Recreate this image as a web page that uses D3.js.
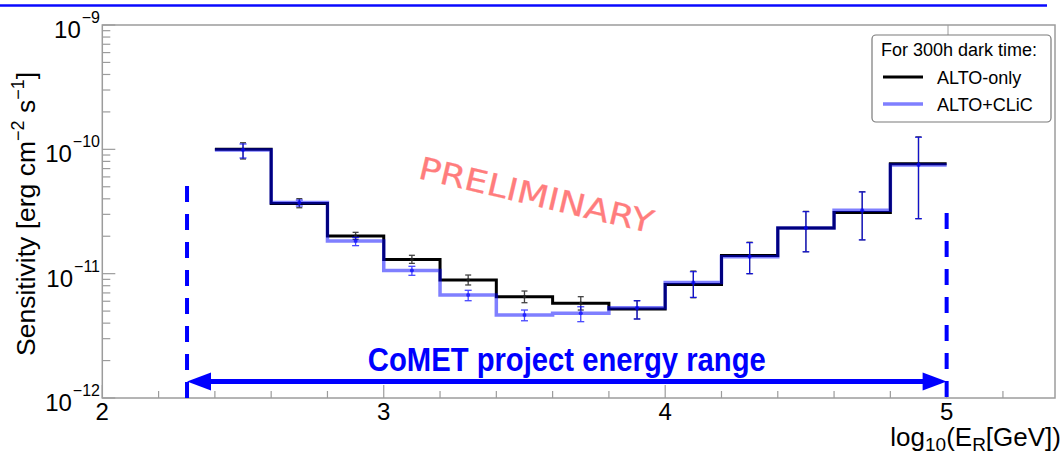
<!DOCTYPE html>
<html>
<head>
<meta charset="utf-8">
<script src="https://cdn.jsdelivr.net/npm/d3@7"></script>
<style>
  html, body { margin: 0; padding: 0; background: #fff; }
  svg { display: block; font-family: "Liberation Sans", Arial, Helvetica, sans-serif; }
</style>
</head>
<body>
<svg id="chart" width="1063" height="454"></svg>
<script>
// Bin edges in log10(E/GeV)
const binEdges = [2.4, 2.6, 2.8, 3.0, 3.2, 3.4, 3.6, 3.8, 4.0, 4.2, 4.4, 4.6, 4.8, 5.0];

// Sensitivity per bin [erg cm^-2 s^-1], 300 h dark time
const altoOnly   = [1.00e-10, 3.66e-11, 2.01e-11, 1.30e-11, 8.9e-12, 6.53e-12, 5.78e-12, 5.20e-12, 8.2e-12, 1.40e-11, 2.33e-11, 3.11e-11, 7.66e-11];
const altoOnlyLo = [8.36e-11, 3.39e-11, 1.89e-11, 1.21e-11, 8.11e-12, 5.84e-12, 5.10e-12, 4.32e-12, 6.4e-12, 1.0e-11, 1.5e-11, 1.87e-11, 2.77e-11];
const altoOnlyHi = [1.13e-10, 4.01e-11, 2.15e-11, 1.405e-11, 9.75e-12, 7.25e-12, 6.53e-12, 6.06e-12, 1.05e-11, 1.79e-11, 3.17e-11, 4.56e-11, 1.26e-10];

const altoClic   = [0.99e-10, 3.74e-11, 1.83e-11, 1.06e-11, 6.73e-12, 4.66e-12, 4.80e-12, 5.32e-12, 8.5e-12, 1.37e-11, 2.33e-11, 3.23e-11, 7.48e-11];
const altoClicLo = [8.52e-11, 3.50e-11, 1.68e-11, 9.70e-12, 6.06e-12, 4.18e-12, 4.11e-12, 4.32e-12, 6.45e-12, 1.0e-11, 1.50e-11, 1.87e-11, 2.77e-11];
const altoClicHi = [1.104e-10, 3.91e-11, 1.96e-11, 1.146e-11, 7.35e-12, 5.10e-12, 5.42e-12, 6.06e-12, 1.037e-11, 1.775e-11, 3.15e-11, 4.54e-11, 1.25e-10];

// Axis ticks
const xMajor = [2, 3, 4, 5];
const xMinor = [2.2, 2.4, 2.6, 2.8, 3.2, 3.4, 3.6, 3.8, 4.2, 4.4, 4.6, 4.8, 5.2];
const yDecades = [-12, -11, -10, -9];

// Project energy range: 200 GeV .. 100 TeV
const rangeLo = Math.log10(200);
const rangeHi = 5;
const rangeLoTop = 5.07e-11;
const rangeHiTop = 3.08e-11;
const arrowLevel = 1.36e-12;

const legendTitle = "For 300h dark time:";
const seriesNames = ["ALTO-only", "ALTO+CLiC"];

const svg = d3.select("#chart");
const padL = 102.3, padR = 1055, padT = 25, padB = 398;

const x = d3.scaleLinear().domain([2, 5.385]).range([padL, padR]);
const y = d3.scaleLog().domain([1e-12, 1e-9]).range([padB, padT]);

const frameColor = "#9c9c9c";
const blue = "#0000ff";

// Top rule
svg.append("line").attr("x1", 0).attr("x2", 1047).attr("y1", 5.5).attr("y2", 5.5)
  .attr("stroke", "#0a0aff").attr("stroke-width", 2.5);

// Frame
svg.append("rect").attr("x", padL).attr("y", padT)
  .attr("width", padR - padL).attr("height", padB - padT)
  .attr("fill", "none").attr("stroke", frameColor).attr("stroke-width", 1.5);

// X ticks (inward)
const gx = svg.append("g");
gx.selectAll("line.maj").data(xMajor).join("line").attr("class", "maj")
  .attr("x1", d => x(d)).attr("x2", d => x(d))
  .attr("y1", padB).attr("y2", padB - 13)
  .attr("stroke", frameColor).attr("stroke-width", 1.2);
gx.selectAll("line.min").data(xMinor).join("line").attr("class", "min")
  .attr("x1", d => x(d)).attr("x2", d => x(d))
  .attr("y1", padB).attr("y2", padB - 7)
  .attr("stroke", frameColor).attr("stroke-width", 1.2);
gx.selectAll("text").data(xMajor).join("text")
  .attr("x", d => x(d)).attr("y", 420)
  .attr("text-anchor", "middle").attr("font-size", 24).attr("fill", "#000")
  .text(d => d);

// Y ticks (inward, log minors)
const yMinorVals = [];
for (let e = -12; e < -9; e++) for (let m = 2; m <= 9; m++) yMinorVals.push(m * Math.pow(10, e));
const gy = svg.append("g");
gy.selectAll("line.maj").data(yDecades).join("line").attr("class", "maj")
  .attr("x1", padL).attr("x2", padL + 13)
  .attr("y1", d => y(Math.pow(10, d))).attr("y2", d => y(Math.pow(10, d)))
  .attr("stroke", frameColor).attr("stroke-width", 1.2);
gy.selectAll("line.min").data(yMinorVals).join("line").attr("class", "min")
  .attr("x1", padL).attr("x2", padL + 8)
  .attr("y1", d => y(d)).attr("y2", d => y(d))
  .attr("stroke", frameColor).attr("stroke-width", 1.2);

// Y labels: 10^e
yDecades.forEach(e => {
  const yy = y(Math.pow(10, e));
  const ex = svg.append("text").attr("x", 100).attr("y", yy - 2)
    .attr("text-anchor", "end").attr("font-size", 16).text("\u2212" + Math.abs(e));
  const w = ex.node().getComputedTextLength();
  svg.append("text").attr("x", 100 - w - 1).attr("y", yy + 13)
    .attr("text-anchor", "end").attr("font-size", 24).text("10");
});

// Axis titles
const yt = svg.append("text").attr("transform", "translate(35,356) rotate(-90)")
  .attr("font-size", 26.5).attr("fill", "#000");
yt.append("tspan").text("Sensitivity [erg cm");
yt.append("tspan").attr("font-size", 18).attr("dy", -11).text("\u22122");
yt.append("tspan").attr("dy", 11).text(" s");
yt.append("tspan").attr("font-size", 18).attr("dy", -11).text("\u22121");
yt.append("tspan").attr("dy", 11).text("]");

const xt = svg.append("text").attr("x", 1061).attr("y", 446)
  .attr("text-anchor", "end").attr("font-size", 26).attr("fill", "#000");
xt.append("tspan").text("log");
xt.append("tspan").attr("font-size", 19).attr("dy", 5).text("10");
xt.append("tspan").attr("dy", -5).text("(E");
xt.append("tspan").attr("font-size", 19).attr("dy", 5).text("R");
xt.append("tspan").attr("dy", -5).text("[GeV])");

// Watermark
svg.append("text")
  .attr("transform", "translate(417,178) rotate(13.3)")
  .attr("font-family", "'DejaVu Sans', sans-serif")
  .attr("font-size", 31).attr("fill", "#ff7d7d")
  .attr("stroke", "#ff7d7d").attr("stroke-width", 0.3)
  .attr("textLength", 240).attr("lengthAdjust", "spacingAndGlyphs")
  .text("PRELIMINARY");

// Step histograms
function stepData(vals) {
  const pts = vals.map((v, i) => [binEdges[i], v]);
  pts.push([binEdges[binEdges.length - 1], vals[vals.length - 1]]);
  return pts;
}
const stepLine = d3.line().x(d => x(d[0])).y(d => y(d[1])).curve(d3.curveStepAfter);
const centers = binEdges.slice(0, -1).map((e, i) => (e + binEdges[i + 1]) / 2);

function errorBars(vals, lo, hi, color, opacity, cap, r) {
  const g = svg.append("g").attr("stroke", color).attr("opacity", opacity);
  g.selectAll("line.v").data(vals).join("line").attr("class", "v")
    .attr("x1", (d, i) => x(centers[i])).attr("x2", (d, i) => x(centers[i]))
    .attr("y1", (d, i) => y(lo[i])).attr("y2", (d, i) => y(hi[i]))
    .attr("stroke-width", 1.3);
  g.selectAll("line.lo").data(vals).join("line").attr("class", "lo")
    .attr("x1", (d, i) => x(centers[i]) - cap).attr("x2", (d, i) => x(centers[i]) + cap)
    .attr("y1", (d, i) => y(lo[i])).attr("y2", (d, i) => y(lo[i]))
    .attr("stroke-width", 1.3);
  g.selectAll("line.hi").data(vals).join("line").attr("class", "hi")
    .attr("x1", (d, i) => x(centers[i]) - cap).attr("x2", (d, i) => x(centers[i]) + cap)
    .attr("y1", (d, i) => y(hi[i])).attr("y2", (d, i) => y(hi[i]))
    .attr("stroke-width", 1.3);
  g.selectAll("circle").data(vals).join("circle")
    .attr("cx", (d, i) => x(centers[i])).attr("cy", d => y(d))
    .attr("r", r).attr("fill", color).attr("stroke", "none");
}

svg.append("path").attr("d", stepLine(stepData(altoOnly)))
  .attr("fill", "none").attr("stroke", "#000").attr("stroke-width", 3);
errorBars(altoOnly, altoOnlyLo, altoOnlyHi, "#222", 0.85, 3, 1.8);

svg.append("path").attr("d", stepLine(stepData(altoClic)))
  .attr("fill", "none").attr("stroke", blue).attr("stroke-opacity", 0.5).attr("stroke-width", 3.5);
errorBars(altoClic, altoClicLo, altoClicHi, blue, 0.72, 3.5, 2);

// Energy range markers
const dash = svg.append("g").attr("stroke", blue).attr("stroke-width", 4).attr("stroke-dasharray", "16,12");
dash.append("line").attr("x1", x(rangeLo)).attr("x2", x(rangeLo))
  .attr("y1", y(rangeLoTop)).attr("y2", padB);
dash.append("line").attr("x1", x(rangeHi)).attr("x2", x(rangeHi))
  .attr("y1", y(rangeHiTop)).attr("y2", padB);

const ay = y(arrowLevel);
const headL = 24, headH = 9;
svg.append("line").attr("x1", x(rangeLo) + headL - 2).attr("x2", x(rangeHi) - headL + 2)
  .attr("y1", ay).attr("y2", ay).attr("stroke", blue).attr("stroke-width", 5);
svg.append("path")
  .attr("d", `M${x(rangeLo)},${ay} L${x(rangeLo) + headL},${ay - headH} L${x(rangeLo) + headL},${ay + headH} Z`)
  .attr("fill", blue);
svg.append("path")
  .attr("d", `M${x(rangeHi)},${ay} L${x(rangeHi) - headL},${ay - headH} L${x(rangeHi) - headL},${ay + headH} Z`)
  .attr("fill", blue);
svg.append("text")
  .attr("x", (x(rangeLo) + x(rangeHi)) / 2).attr("y", ay - 10)
  .attr("text-anchor", "middle")
  .attr("font-family", "'Liberation Sans Narrow', 'Liberation Sans', Arial, sans-serif")
  .attr("font-weight", "bold").attr("font-size", 33).attr("fill", blue)
  .attr("textLength", 398).attr("lengthAdjust", "spacingAndGlyphs")
  .text("CoMET project energy range");

// Legend
svg.append("line").attr("x1", 948).attr("x2", 948).attr("y1", padT).attr("y2", 35)
  .attr("stroke", frameColor).attr("stroke-width", 1);
const lg = svg.append("g");
lg.append("rect").attr("x", 872).attr("y", 35).attr("width", 179).attr("height", 87)
  .attr("rx", 4).attr("fill", "#fff").attr("stroke", "#7a7a7a").attr("stroke-width", 1.2);
lg.append("text").attr("x", 881).attr("y", 56).attr("font-size", 18).text(legendTitle);
const legStroke = [{ c: "#000", o: 1, w: 3 }, { c: blue, o: 0.5, w: 3.5 }];
seriesNames.forEach((name, i) => {
  const yy = 77 + i * 27;
  lg.append("line").attr("x1", 883).attr("x2", 923).attr("y1", yy).attr("y2", yy)
    .attr("stroke", legStroke[i].c).attr("stroke-opacity", legStroke[i].o)
    .attr("stroke-width", legStroke[i].w);
  lg.append("text").attr("x", 937).attr("y", yy + 6.5).attr("font-size", 18).text(name);
});
</script>
</body>
</html>
